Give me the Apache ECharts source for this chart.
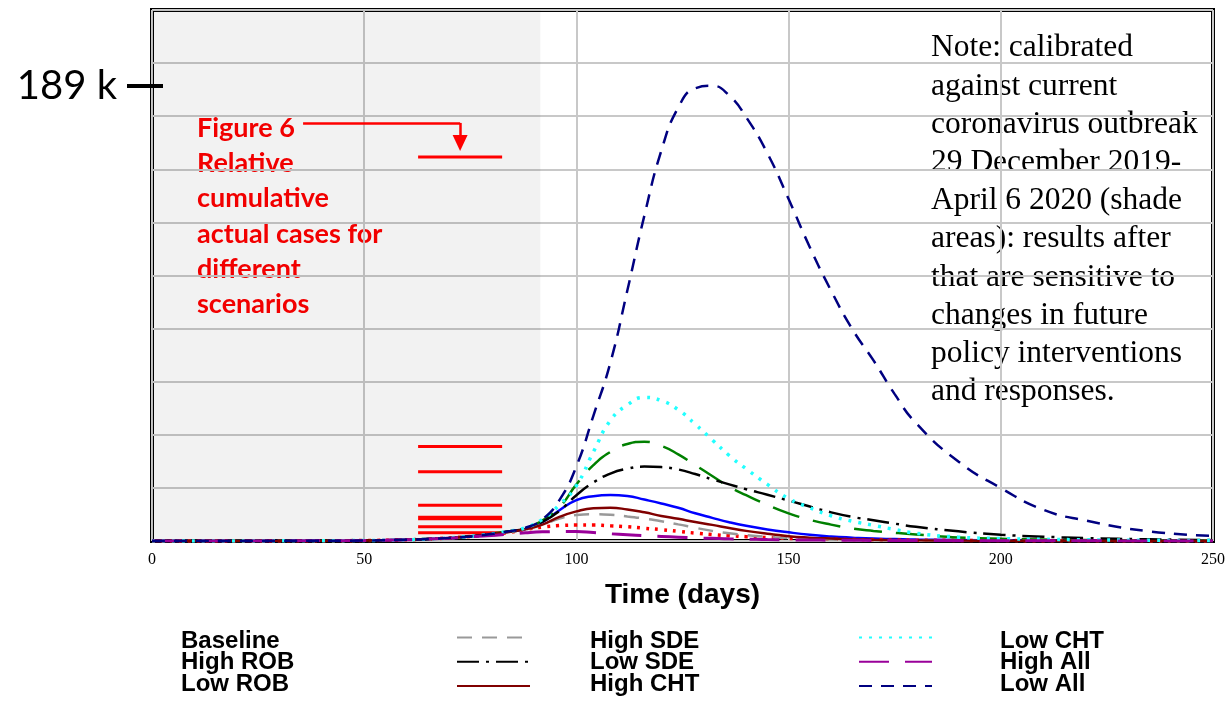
<!DOCTYPE html>
<html>
<head>
<meta charset="utf-8">
<script src="https://cdn.jsdelivr.net/npm/echarts@6/dist/echarts.min.js"></script>
<style>
  html, body { margin: 0; padding: 0; background: #fff; }
  #chart { width: 1231px; height: 701px; }
</style>
</head>
<body>
<div id="chart"></div>
<script>
// time axis (days) shared by all scenario curves
const days = [0, 30, 50, 60, 66, 72, 78, 84, 88, 92, 96, 100, 104, 108, 112, 116, 120, 124, 128, 132, 136, 140, 145, 150, 155, 160, 165, 170, 175, 180, 190, 200, 210, 220, 235, 250]

// scenario values, thousands of cases
const baseline = [0, 0.05, 0.2, 0.5, 0.9, 1.5, 2.4, 3.8, 5, 7.8, 12.8, 17, 18.6, 19.1, 18.7, 17.2, 15.6, 13.8, 11.5, 9.6, 7.8, 6.3, 4.8, 3.6, 2.6, 1.9, 1.4, 1.0, 0.8, 0.6, 0.4, 0.25, 0.15, 0.1, 0.06, 0.04]
const highROB = [0, 0.05, 0.2, 0.5, 0.9, 1.5, 2.3, 3.5, 4.8, 5.8, 6.4, 6.6, 6.6, 6.3, 5.9, 5.3, 4.7, 4.0, 3.3, 2.7, 2.2, 1.8, 1.4, 1.1, 0.9, 0.75, 0.6, 0.5, 0.4, 0.35, 0.25, 0.18, 0.12, 0.08, 0.05, 0.03]
const lowROB = [0, 0.05, 0.2, 0.5, 0.9, 1.5, 2.5, 4.0, 5.3, 8.5, 14, 23.5, 31.5, 37, 40.3, 41.2, 39.5, 36, 31.5, 27, 22.5, 19, 15, 11.5, 8.8, 6.8, 5.2, 4.2, 3.4, 2.7, 1.5, 0.9, 0.6, 0.4, 0.25, 0.15]
const highSDE = [0, 0.05, 0.2, 0.5, 0.9, 1.5, 2.4, 3.7, 4.8, 6.8, 9.3, 10.8, 11.1, 10.9, 10.2, 9.3, 8.2, 6.9, 5.5, 4.2, 3.2, 2.4, 1.7, 1.2, 0.9, 0.6, 0.45, 0.35, 0.25, 0.2, 0.12, 0.08, 0.05, 0.03, 0.02, 0.01]
const lowSDE = [0, 0.05, 0.2, 0.5, 0.9, 1.5, 2.5, 4.0, 5.2, 8, 12.5, 19, 24.3, 28, 30, 30.9, 30.7, 29.7, 27.8, 25.6, 23.5, 21.5, 19.2, 16.8, 14.3, 11.9, 10, 8.6, 7.2, 5.9, 4, 2.6, 1.8, 1.2, 0.7, 0.4]
const highCHT = [0, 0.05, 0.2, 0.5, 0.9, 1.5, 2.4, 3.7, 4.9, 6.8, 10, 12.3, 13.6, 13.8, 13.1, 11.9, 10.4, 9.2, 7.9, 6.7, 5.4, 4.2, 3.0, 2.0, 1.4, 1.0, 0.7, 0.5, 0.4, 0.3, 0.2, 0.12, 0.08, 0.05, 0.03, 0.02]
const lowCHT = [0, 0.05, 0.2, 0.5, 0.9, 1.5, 2.5, 4.0, 5.5, 9, 15, 23, 37, 50, 56.5, 59.6, 58.3, 54.5, 48.5, 42, 35.5, 30, 23.5, 17.6, 13.8, 10.5, 8.2, 6.5, 4.8, 3.2, 1.6, 1.0, 0.7, 0.5, 0.3, 0.2]
const highAll = [0, 0.05, 0.2, 0.5, 0.9, 1.4, 2.1, 2.8, 3.4, 3.8, 3.9, 3.9, 3.5, 3.0, 2.6, 2.2, 1.9, 1.6, 1.3, 1.1, 0.9, 0.8, 0.6, 0.5, 0.4, 0.35, 0.3, 0.25, 0.2, 0.18, 0.14, 0.1, 0.08, 0.06, 0.04, 0.03]
const lowAll = [0, 0.05, 0.2, 0.5, 0.9, 1.5, 2.5, 4.0, 5.5, 9, 17, 31, 52, 74, 104, 135, 162, 180, 188, 189, 185, 176, 161, 142, 122, 104, 88, 75, 61, 49, 33, 22, 13, 8.5, 4, 2.1]

// relative cumulative actual cases (red bars drawn between two days)
const relativeCases = [159.5, 39.2, 28.8, 14.8, 9.9, 9.2, 5.9, 3.4]
const relativeFrom = 62.7
const relativeTo = 82.5

// calibration window (shaded) and axis settings
const calibrationEnd = 91.5
const xTicks = [0, 50, 100, 150, 200, 250]
const yMax = 220.5
const yStep = 22.05
const peakLabel = 189

// arrow from the caption to the top red bar
const arrowFrom = 35.6
const arrowTo = 72.6
const arrowLevel = 173.6
const arrowTip = 165.3

const toPairs = vals => days.map((d, i) => [d, vals[i]])

const chart = echarts.init(document.getElementById('chart'))

const lineSeries = (name, vals, color, width, type) => ({
    name: name,
    type: 'line',
    data: toPairs(vals),
    symbol: 'none',
    smooth: 0.5,
    lineStyle: { color: color, width: width, type: type },
    itemStyle: { color: color },
    z: 3
})

const redData = []
relativeCases.forEach(v => {
    redData.push([relativeFrom, v], [relativeTo, v], [relativeTo, '-'])
})

const series = [
    lineSeries('Baseline', baseline, '#0000ff', 2.5, 'solid'),
    lineSeries('High ROB', highROB, '#ff0000', 3.5, [3, 6]),
    lineSeries('Low ROB', lowROB, '#008000', 2.5, [28, 14]),
    lineSeries('High SDE', highSDE, '#999999', 2.5, [15, 10]),
    lineSeries('Low SDE', lowSDE, '#000000', 2.5, [22, 7, 3, 7]),
    lineSeries('High CHT', highCHT, '#800000', 2.5, 'solid'),
    lineSeries('Low CHT', lowCHT, '#22ffff', 3.5, [3, 7]),
    lineSeries('High All', highAll, '#990099', 3, [30, 16]),
    lineSeries('Low All', lowAll, '#000080', 2.5, [13, 9]),
    {
        name: 'relative',
        type: 'line',
        data: redData,
        symbol: 'none',
        connectNulls: false,
        lineStyle: { color: '#ff0000', width: 3 },
        z: 2,
        markArea: {
            silent: true,
            itemStyle: { color: 'rgba(0,0,0,0.05)' },
            data: [[{ coord: [0, 0] }, { coord: [calibrationEnd, yMax] }]]
        },
        markLine: {
            silent: true,
            animation: false,
            label: { show: false },
            lineStyle: { color: '#ff0000', width: 2.5, type: 'solid' },
            data: [
                [{ coord: [arrowFrom, arrowLevel], symbol: 'none' }, { coord: [arrowTo, arrowLevel], symbol: 'none' }],
                [{ coord: [arrowTo, arrowLevel], symbol: 'none' }, { coord: [arrowTo, arrowTip], symbol: 'triangle', symbolSize: [15, 16] }]
            ]
        }
    }
]

// legend: names in one grid, line samples in another
const nameLegend = (names, left) => ({
    data: names,
    orient: 'vertical',
    left: left,
    top: 629,
    padding: 0,
    itemWidth: 0,
    itemHeight: 10,
    itemGap: -2.5,
    selectedMode: false,
    lineStyle: { opacity: 0 },
    itemStyle: { opacity: 0 },
    textStyle: { fontFamily: 'Liberation Sans', fontWeight: 'bold', fontSize: 24, color: '#000', lineHeight: 21.5 }
})
const sampleLegend = (names, left) => ({
    data: names,
    orient: 'vertical',
    left: left,
    top: 629,
    padding: 0,
    itemWidth: 73,
    itemHeight: 21.5,
    itemGap: 7,
    selectedMode: false,
    formatter: () => '',
    itemStyle: { opacity: 0 },
    textStyle: { fontSize: 10, lineHeight: 21.5 }
})

const option = {
    animation: false,
    backgroundColor: '#fff',
    grid: {
        left: 152,
        right: 18,
        top: 10,
        bottom: 160,
        show: true,
        borderColor: '#000',
        borderWidth: 4,
        backgroundColor: 'transparent'
    },
    xAxis: {
        type: 'value',
        min: 0,
        max: 250,
        interval: 50,
        name: 'Time (days)',
        nameLocation: 'middle',
        nameGap: 40,
        nameTextStyle: { fontFamily: 'Liberation Sans', fontWeight: 'bold', fontSize: 28, color: '#000' },
        axisLine: { show: false },
        axisTick: { show: false },
        axisLabel: {
            margin: 11,
            fontFamily: 'Liberation Serif',
            fontSize: 16,
            color: '#000',
            customValues: xTicks
        },
        splitLine: { lineStyle: { color: '#c8c8c8', width: 2 } }
    },
    yAxis: [
        {
            type: 'value',
            min: 0,
            max: yMax,
            interval: yStep,
            axisLine: { show: false },
            axisTick: { show: false },
            axisLabel: { show: false },
            splitLine: { lineStyle: { color: '#c8c8c8', width: 2 } }
        },
        {
            type: 'value',
            min: 0,
            max: yMax,
            position: 'left',
            offset: -11,
            axisLine: { show: false },
            splitLine: { show: false },
            axisTick: {
                show: true,
                length: 36,
                customValues: [peakLabel],
                lineStyle: { color: '#000', width: 4 }
            },
            axisLabel: {
                margin: 46,
                customValues: [peakLabel],
                formatter: v => v + ' k',
                fontFamily: 'Lato',
                fontSize: 40,
                color: '#000'
            }
        }
    ],
    legend: [
        nameLegend(['Baseline', 'High ROB', 'Low ROB'], 172),
        nameLegend(['High SDE', 'Low SDE', 'High CHT'], 581),
        nameLegend(['Low CHT', 'High All', 'Low All'], 991),
        sampleLegend(['High SDE', 'Low SDE', 'High CHT'], 456),
        sampleLegend(['Low CHT', 'High All', 'Low All'], 858)
    ],
    graphic: [
        {
            type: 'text',
            left: 197,
            top: 111,
            style: {
                text: 'Figure 6\nRelative\ncumulative\nactual cases for\ndifferent\nscenarios',
                font: 'bold 27px Lato',
                fill: '#ff0000',
                lineHeight: 35.1
            }
        },
        {
            type: 'text',
            left: 931,
            top: 29,
            style: {
                text: 'Note: calibrated\nagainst current\ncoronavirus outbreak\n29 December 2019-\nApril 6 2020 (shade\nareas): results after\nthat are sensitive to\nchanges in future\npolicy interventions\nand responses.',
                font: '31.5px "Liberation Serif"',
                fill: '#000',
                lineHeight: 38.2
            }
        }
    ],
    series: series
}

chart.setOption(option)
</script>
</body>
</html>
